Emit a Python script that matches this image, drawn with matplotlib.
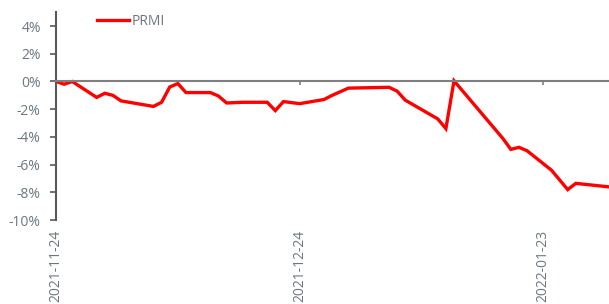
import pandas as pd
import numpy as np
import matplotlib.pyplot as plt
import matplotlib.dates as mdates
from matplotlib.ticker import FuncFormatter

plt.rcParams['font.family'] = ['Open Sans', 'DejaVu Sans']

# Donnees (%)
dates = ["2021-11-24", "2021-11-25", "2021-11-26", "2021-11-29", "2021-11-30",
         "2021-12-01", "2021-12-02", "2021-12-03", "2021-12-06", "2021-12-07",
         "2021-12-08", "2021-12-09", "2021-12-10", "2021-12-13", "2021-12-14",
         "2021-12-15", "2021-12-17", "2021-12-20", "2021-12-21", "2021-12-22",
         "2021-12-24", "2021-12-27", "2021-12-28", "2021-12-30", "2022-01-04",
         "2022-01-05", "2022-01-06", "2022-01-10", "2022-01-11", "2022-01-12",
         "2022-01-18", "2022-01-19", "2022-01-20", "2022-01-21", "2022-01-24",
         "2022-01-26", "2022-01-27", "2022-01-31"]
prmi = [0.0, -0.2, 0.0, -1.15, -0.85,
        -1.0, -1.4, -1.5, -1.8, -1.5,
        -0.4, -0.15, -0.8, -0.8, -1.05,
        -1.55, -1.5, -1.5, -2.1, -1.45,
        -1.6, -1.3, -1.0, -0.48, -0.42,
        -0.7, -1.35, -2.7, -3.4, 0.05,
        -4.1, -4.9, -4.75, -5.0, -6.4,
        -7.8, -7.35, -7.6]
tick_dates = ["2021-11-24", "2021-12-24", "2022-01-23"]
y_ticks = [-10, -8, -6, -4, -2, 0, 2, 4]

x = pd.to_datetime(dates)
gray = "#6b7780"

fig = plt.figure(figsize=(6.09, 3.04), dpi=100)
ax = fig.add_axes([0.092, 0.276, 0.908, 0.684])

ax.plot(x, prmi, color="#ff0000", lw=2.4, label="PRMI", solid_joinstyle="miter")

ax.set_ylim(-10, 5)
ax.set_xlim(pd.Timestamp("2021-11-24"), pd.Timestamp("2022-01-31 02:00"))
ax.set_yticks(y_ticks)
ax.yaxis.set_major_formatter(FuncFormatter(lambda v, p: f"{v:.0f}%"))
ax.set_xticks(pd.to_datetime(tick_dates))
ax.xaxis.set_major_formatter(mdates.DateFormatter("%Y-%m-%d"))

for s in ["top", "right"]:
    ax.spines[s].set_visible(False)
ax.spines["bottom"].set_position(("data", 0))
ax.spines["bottom"].set_color("#7f7f7f")
ax.spines["bottom"].set_linewidth(1.5)
ax.spines["left"].set_color("#595959")
ax.spines["left"].set_linewidth(1.5)

ax.tick_params(axis="y", direction="out", length=4, width=1.2, color="#595959",
               labelsize=10, labelcolor=gray, pad=7)
ax.tick_params(axis="x", direction="out", length=3, width=1.2, color="#7f7f7f",
               labelsize=10, labelcolor=gray, pad=104, labelrotation=90)
for lbl in ax.get_xticklabels():
    lbl.set_va("top")

leg = ax.legend(loc="upper left", bbox_to_anchor=(0.052, 1.05), frameon=False,
                handlelength=2.3, handletextpad=0.2, fontsize=10)
for t in leg.get_texts():
    t.set_color(gray)

plt.savefig("out.png", dpi=100)
